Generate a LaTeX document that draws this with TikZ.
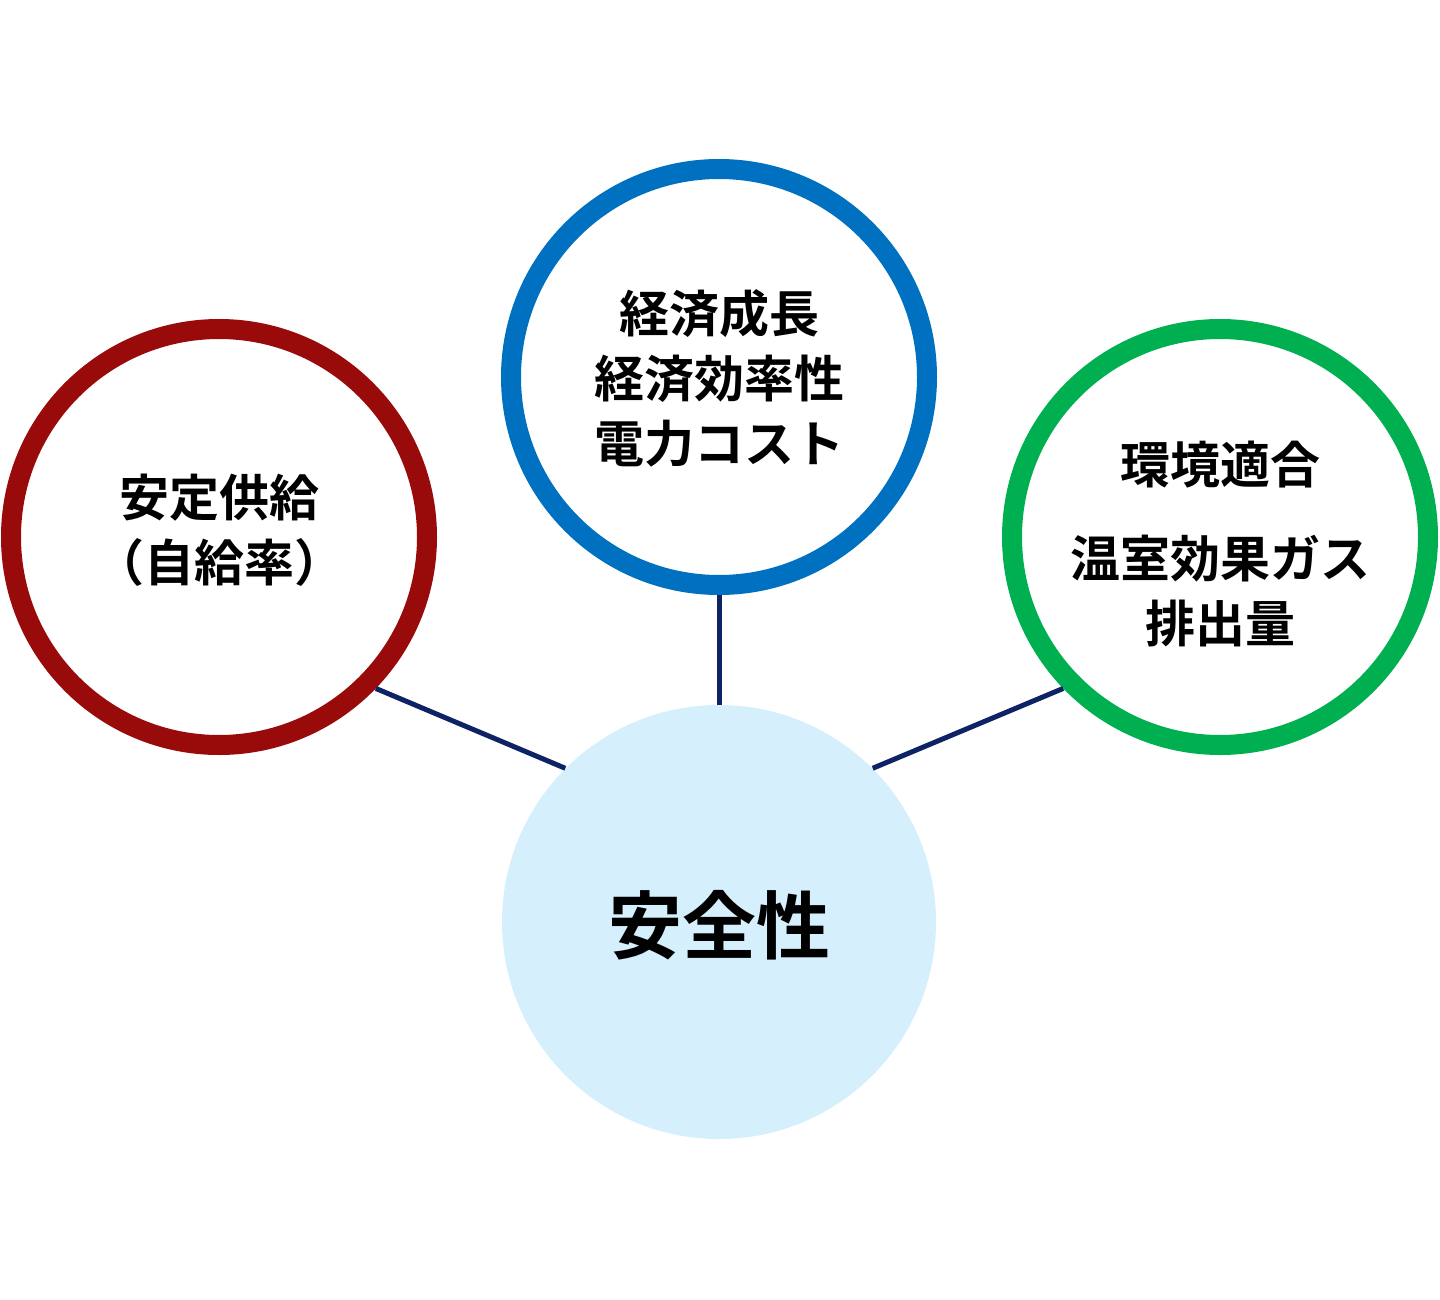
\documentclass[tikz,border=0pt]{standalone}
\usepackage{fontspec}
\newfontfamily\jp{Noto Sans CJK JP Bold}
\definecolor{cred}{HTML}{990A0A}
\definecolor{cblue}{HTML}{0070C0}
\definecolor{cgreen}{HTML}{00B050}
\definecolor{cfill}{HTML}{D5EFFC}
\definecolor{cline}{HTML}{0D2366}
\begin{document}
\begin{tikzpicture}[x=0.5pt,y=-0.5pt,
  ring/.style={circle,draw,line width=10pt,minimum size=208pt,inner sep=0pt},
  lbl/.style={font=\jp\fontsize{25}{32.5}\selectfont,align=center,inner sep=0pt},
  conn/.style={draw=cline,line width=2.5pt}]
\useasboundingbox (0,0) rectangle (1440,1300);
\node[ring,draw=cred] (red) at (219,537) {};
\node[ring,draw=cblue] (blue) at (719,377) {};
\node[ring,draw=cgreen] (green) at (1220,537) {};
\node[circle,fill=cfill,minimum size=217pt,inner sep=0pt] (safe) at (719,922) {};
\draw[conn] (blue.south) -- (safe.north);
\draw[conn] (red.-44) -- (safe.135);
\draw[conn] (green.-136) -- (safe.45);
\node[lbl] (t1) at (219,530) {安定供給\\（自給率）};
\node[lbl] (t2) at (719,378) {経済成長\\経済効率性\\電力コスト};
\node[lbl] (t3a) at (1220,465) {環境適合};
\node[lbl] (t3b) at (1220,591) {温室効果ガス\\排出量};
\node[font=\jp\fontsize{37}{40}\selectfont,inner sep=0pt] (t4) at (719,925) {安全性};
\end{tikzpicture}
\end{document}
